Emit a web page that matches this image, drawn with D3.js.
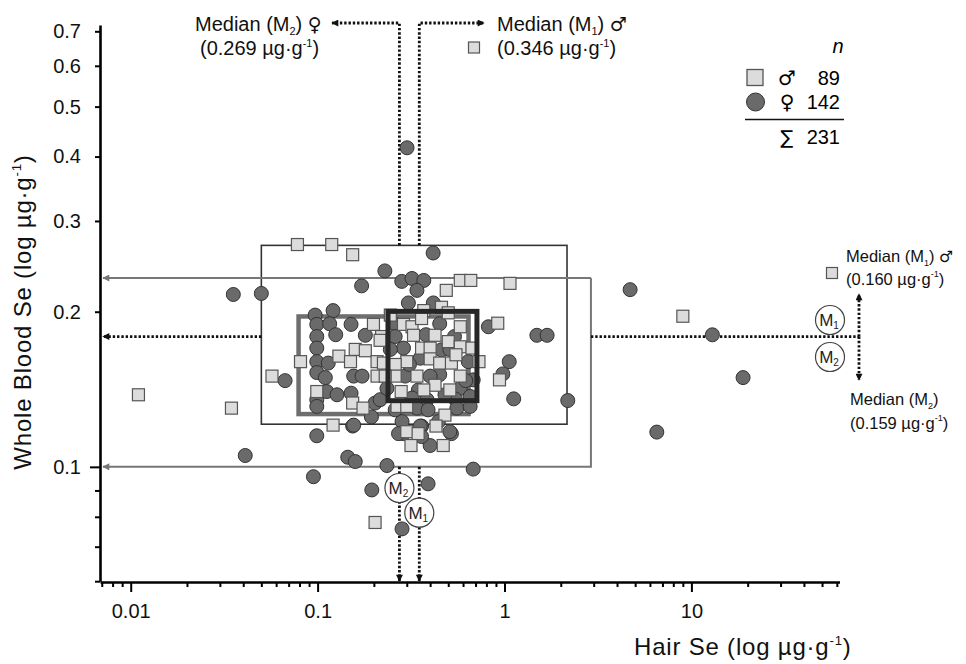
<!DOCTYPE html>
<html><head><meta charset="utf-8">
<script src="https://cdn.jsdelivr.net/npm/d3@7"></script>
<style>body{margin:0;background:#fff}svg{display:block;font-family:"Liberation Sans",Arial,sans-serif}</style>
</head><body><svg id="c" width="966" height="664"></svg>
<script>
// ---- data (Hair Se, Whole Blood Se; µg/g) ----
const maleHair = [0.011,0.0346,0.078,0.119,0.154,9.0,1.07,0.58,0.66,0.488,0.92,0.94,0.057,0.081,0.13,0.15,0.159,0.18,0.199,0.22,0.099,0.154,0.175,0.121,0.208,0.208,0.225,0.37,0.46,0.288,0.32,0.58,0.326,0.425,0.50,0.58,0.36,0.40,0.67,0.216,0.30,0.40,0.45,0.52,0.73,0.26,0.26,0.34,0.58,0.23,0.425,0.51,0.28,0.266,0.30,0.48,0.43,0.30,0.345,0.316,0.47,0.203,0.245,0.50,0.36,0.55,0.37];
const maleBlood = [0.138,0.130,0.270,0.270,0.258,0.196,0.227,0.230,0.230,0.220,0.190,0.1475,0.150,0.160,0.164,0.160,0.169,0.168,0.189,0.179,0.140,0.133,0.130,0.1205,0.160,0.150,0.159,0.201,0.204,0.189,0.187,0.187,0.180,0.180,0.175,0.171,0.170,0.170,0.170,0.176,0.160,0.162,0.159,0.159,0.160,0.158,0.150,0.150,0.150,0.150,0.144,0.141,0.140,0.131,0.131,0.126,0.120,0.117,0.116,0.110,0.110,0.078,0.197,0.199,0.194,0.165,0.141];
const femaleHair = [0.301,0.0354,0.050,0.067,0.041,0.095,0.099,0.145,0.159,0.235,0.195,0.283,0.39,0.68,0.288,0.36,0.40,0.52,0.154,0.194,0.203,0.216,0.229,0.172,0.415,0.282,0.32,0.37,0.34,0.306,0.416,0.097,0.121,0.099,0.116,0.151,0.099,0.125,0.18,0.099,0.099,0.114,0.099,0.11,0.099,0.099,0.112,0.127,0.151,0.156,0.173,0.156,0.255,0.45,0.26,0.38,0.54,0.288,0.46,0.354,0.64,0.294,0.45,0.40,0.346,0.58,0.235,0.32,0.385,0.545,0.655,0.34,0.39,0.556,0.655,0.283,0.354,0.443,0.271,0.51,0.36,0.82,1.06,0.98,1.12,2.18,1.49,1.69,4.70,12.95,6.53,18.9,0.68,0.245,0.51,0.31,0.62,0.48,0.26];
const femaleBlood = [0.416,0.216,0.217,0.147,0.1052,0.0957,0.1149,0.1044,0.1024,0.1006,0.0902,0.0758,0.0927,0.099,0.116,0.120,0.110,0.116,0.120,0.125,0.133,0.135,0.240,0.2245,0.260,0.229,0.232,0.230,0.220,0.208,0.208,0.197,0.201,0.189,0.1895,0.189,0.179,0.1805,0.180,0.170,0.160,0.159,0.1524,0.149,0.135,0.131,0.140,0.138,0.139,0.150,0.150,0.1205,0.190,0.1895,0.179,0.1805,0.179,0.170,0.1687,0.1625,0.160,0.150,0.151,0.150,0.141,0.142,0.142,0.136,0.135,0.1354,0.137,0.130,0.129,0.130,0.131,0.1224,0.120,0.1224,0.116,0.117,0.1145,0.187,0.160,0.1515,0.1355,0.1345,0.180,0.180,0.2207,0.1804,0.1168,0.149,0.1475,0.169,0.169,0.158,0.147,0.138,0.129];

// ranges / boxes
const outerHair = [0.05, 2.16],   outerBlood = [0.121, 0.269];
const grayHairMax = 2.9,          grayBlood = [0.1, 0.2325];
const femIQRHair = [0.0791, 0.642], femIQRBlood = [0.1266, 0.1958];
const maleIQRHair = [0.238, 0.712], maleIQRBlood = [0.1344, 0.2003];
// medians (positions on chart)
const medianHair = {M2: 0.274, M1: 0.35};
const medianBlood = 0.179;

// ticks
const xMajorTicks = [0.01, 0.1, 1, 10];
const yMajorTicks = [0.1, 0.2, 0.3, 0.4, 0.5, 0.6, 0.7];
const yMinorTicks = [0.06, 0.07, 0.08, 0.09];

// legend
const legendRows = [{sym:"square", sex:"\u2642", n:89},{sym:"circle", sex:"\u2640", n:142}];
const legendTotal = 231;

const svg = d3.select("#c");
const x = d3.scaleLog().domain([0.00685, 62]).range([100, 839.5]);
const y = d3.scaleLog().domain([0.06, 0.72]).range([581.2, 25]);

const defs = svg.append("defs");
function marker(id, color){
  defs.append("marker").attr("id", id).attr("viewBox","0 0 10 10").attr("refX",9).attr("refY",5)
    .attr("markerWidth",9).attr("markerHeight",7).attr("markerUnits","userSpaceOnUse").attr("orient","auto")
    .append("path").attr("d","M0,0L10,5L0,10z").attr("fill",color);
}
marker("ak","#111"); marker("ag","#777");

const dotted = {stroke:"#111", "stroke-width":2.8, "stroke-dasharray":"2.4,1.9", fill:"none"};
function dpath(d, arrow){
  const p = svg.append("path").attr("d", d);
  Object.entries(dotted).forEach(([k,v])=>p.attr(k,v));
  if(arrow) p.attr("marker-end","url(#ak)");
  return p;
}

// outer thin box
svg.append("rect").attr("x", x(outerHair[0])).attr("y", y(outerBlood[1]))
  .attr("width", x(outerHair[1])-x(outerHair[0])).attr("height", y(outerBlood[0])-y(outerBlood[1]))
  .attr("fill","none").attr("stroke","#333").attr("stroke-width",1.6);
// gray bracket
svg.append("path").attr("d", `M${x(grayHairMax)},${y(grayBlood[1])}H103`)
  .attr("stroke","#777").attr("stroke-width",2).attr("fill","none").attr("marker-end","url(#ag)");
svg.append("path").attr("d", `M${x(grayHairMax)},${y(grayBlood[1])}V${y(grayBlood[0])}H103`)
  .attr("stroke","#777").attr("stroke-width",2).attr("fill","none").attr("marker-end","url(#ag)");

// median dotted lines
const yTopLine = 23;
dpath(`M${x(medianHair.M2)},${y(outerBlood[1])}V${yTopLine}H332`, true);
dpath(`M${x(medianHair.M1)},${y(outerBlood[1])}V${yTopLine}H484`, true);
dpath(`M${x(medianHair.M2)},${y(0.1)}V581`, true);
dpath(`M${x(medianHair.M1)},${y(0.1)}V581`, true);
dpath(`M${x(outerHair[0])},${y(medianBlood)}H103`, true);
dpath(`M${x(grayHairMax)},${y(medianBlood)}H859`, false);
dpath(`M859,${y(medianBlood)}V294`, true);
dpath(`M859,${y(medianBlood)}V380`, true);

// female IQR box (gray thick)
svg.append("rect").attr("x", x(femIQRHair[0])).attr("y", y(femIQRBlood[1]))
  .attr("width", x(femIQRHair[1])-x(femIQRHair[0])).attr("height", y(femIQRBlood[0])-y(femIQRBlood[1]))
  .attr("fill","none").attr("stroke","#6e6e6e").attr("stroke-width",4.5);

// data
const females = femaleHair.map((h,i)=>({h, b: femaleBlood[i]}));
const males = maleHair.map((h,i)=>({h, b: maleBlood[i]}));
svg.append("g").selectAll("circle").data(females).join("circle")
  .attr("cx", d=>x(d.h)).attr("cy", d=>y(d.b)).attr("r",7)
  .attr("fill","#6a6a6a").attr("stroke","#333").attr("stroke-width",1);
svg.append("g").selectAll("rect").data(males).join("rect")
  .attr("x", d=>x(d.h)-6).attr("y", d=>y(d.b)-6).attr("width",12).attr("height",12)
  .attr("fill","#dcdcdc").attr("stroke","#555").attr("stroke-width",1.2);

// male IQR box (dark thick)
svg.append("rect").attr("x", x(maleIQRHair[0])).attr("y", y(maleIQRBlood[1]))
  .attr("width", x(maleIQRHair[1])-x(maleIQRHair[0])).attr("height", y(maleIQRBlood[0])-y(maleIQRBlood[1]))
  .attr("fill","none").attr("stroke","#262626").attr("stroke-width",5);

// circled M labels
function mcircle(cx, cy, sub){
  svg.append("circle").attr("cx",cx).attr("cy",cy).attr("r",14.5).attr("fill","#fff").attr("stroke","#444").attr("stroke-width",1.2);
  const t = svg.append("text").attr("x",cx-1).attr("y",cy+6).attr("text-anchor","middle").attr("font-size",17).attr("fill","#222");
  t.append("tspan").text("M");
  t.append("tspan").attr("font-size",10).attr("dy",3).text(sub);
}
mcircle(x(medianHair.M2), 488, "2");
mcircle(x(medianHair.M1), 512.7, "1");
mcircle(830, 320, "1");
mcircle(830, 357, "2");

// axes
const ax = svg.append("g").attr("transform","translate(0,582)");
ax.call(d3.axisBottom(x).tickValues(xMajorTicks).tickSize(10).tickSizeOuter(0).tickPadding(12)
  .tickFormat(d => String(d)));
const xMinor = x.ticks().filter(t => !xMajorTicks.some(m => Math.abs(m-t)/m < 1e-6));
const axm = svg.append("g").attr("transform","translate(0,582)");
axm.call(d3.axisBottom(x).tickValues(xMinor).tickSize(5).tickSizeOuter(0).tickFormat(""));
axm.select(".domain").remove();

const ay = svg.append("g").attr("transform","translate(100,0)");
ay.call(d3.axisLeft(y).tickValues(yMajorTicks).tickSize(5).tickSizeOuter(0).tickPadding(14)
  .tickFormat(d3.format(".1f")));
ay.selectAll(".tick line").filter(d => d===0.1).attr("x2",-10);
const aym = svg.append("g").attr("transform","translate(100,0)");
aym.call(d3.axisLeft(y).tickValues(yMinorTicks).tickSize(5).tickSizeOuter(0).tickFormat(""));
aym.select(".domain").remove();

svg.selectAll(".domain").attr("stroke","#000").attr("stroke-width",2.6);
svg.selectAll(".tick line").attr("stroke","#000").attr("stroke-width",2);
svg.selectAll(".tick text").attr("font-size",20).attr("fill","#111").attr("font-family","Liberation Sans, Arial, sans-serif");

// axis titles
function unitTitle(sel, label){
  sel.append("tspan").text(label + " (log \u00b5g\u00b7g");
  sel.append("tspan").attr("font-size","0.55em").attr("dy","-0.75em").text("-1");
  sel.append("tspan").attr("dy","0.41em").text(")");
}
const xt = svg.append("text").attr("x",634).attr("y",655).attr("font-size",24).attr("letter-spacing",0.8).attr("fill","#111");
unitTitle(xt, "Hair Se");
const yt = svg.append("text").attr("transform","translate(31,312) rotate(-90)").attr("text-anchor","middle")
  .attr("font-size",24).attr("letter-spacing",0.8).attr("fill","#111");
unitTitle(yt, "Whole Blood Se");

// annotations
function medianText(xp, yp, sub, sym, fs){
  const t = svg.append("text").attr("x",xp).attr("y",yp).attr("font-size",fs).attr("fill","#111");
  t.append("tspan").text("Median (M");
  t.append("tspan").attr("font-size",fs*0.55).attr("dy",4).text(sub);
  t.append("tspan").attr("dy",-4).text(")" + (sym ? " " : ""));
  if(sym) t.append("tspan").attr("font-family","DejaVu Sans").attr("font-weight","bold").attr("font-size",fs*0.95).text(sym);
}
function valueText(xp, yp, val, fs){
  const t = svg.append("text").attr("x",xp).attr("y",yp).attr("font-size",fs).attr("fill","#111");
  t.append("tspan").text("(" + val + " \u00b5g\u00b7g");
  t.append("tspan").attr("font-size",fs*0.55).attr("dy",-8).text("-1");
  t.append("tspan").attr("dy",8).text(")");
}
medianText(195, 31, "2", "\u2640", 20);
valueText(200, 55, "0.269", 20);
medianText(497, 31, "1", "\u2642", 20);
valueText(497, 55, "0.346", 20);
medianText(846, 262, "1", "\u2642", 16.5);
valueText(846, 285, "0.160", 16.5);
medianText(850, 405, "2", null, 16.5);
valueText(850, 429, "0.159", 16.5);
// small male markers beside M1 labels
[[474,47.5],[832,273]].forEach(([cx,cy])=>{
  svg.append("rect").attr("x",cx-5.5).attr("y",cy-5.5).attr("width",11).attr("height",11)
    .attr("fill","#dcdcdc").attr("stroke","#555").attr("stroke-width",1.2);
});

// legend
const lg = svg.append("g");
lg.append("text").attr("x",838).attr("y",53).attr("text-anchor","middle").attr("font-size",20).attr("font-style","italic").text("n");
legendRows.forEach((r,i)=>{
  const cy = 77.5 + i*24.5;
  if(r.sym==="square") lg.append("rect").attr("x",747).attr("y",cy-8).attr("width",16).attr("height",16)
      .attr("fill","#dcdcdc").attr("stroke","#555").attr("stroke-width",1.3);
  else lg.append("circle").attr("cx",755.5).attr("cy",cy).attr("r",9).attr("fill","#6a6a6a").attr("stroke","#333");
  lg.append("text").attr("x",787).attr("y",cy+7).attr("text-anchor","middle").attr("font-family","DejaVu Sans")
    .attr("font-weight","bold").attr("font-size",20).text(r.sex);
  lg.append("text").attr("x",840).attr("y",cy+7).attr("text-anchor","end").attr("font-size",20).text(r.n);
});
lg.append("line").attr("x1",745).attr("x2",844).attr("y1",119.5).attr("y2",119.5).attr("stroke","#111").attr("stroke-width",1.6);
lg.append("text").attr("x",787).attr("y",144).attr("text-anchor","middle").attr("font-family","DejaVu Sans").attr("font-size",19).text("\u2211");
lg.append("text").attr("x",840).attr("y",144).attr("text-anchor","end").attr("font-size",20).text(legendTotal);
</script></body></html>
